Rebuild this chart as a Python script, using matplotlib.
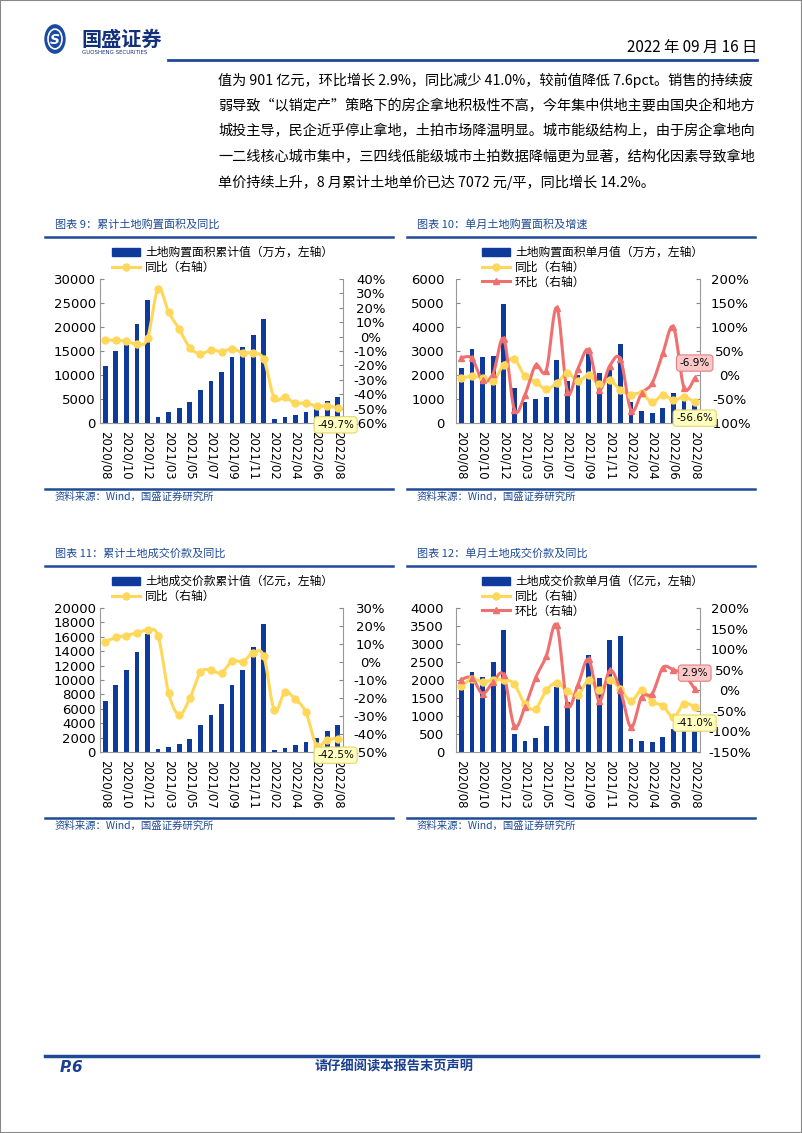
import numpy as np
import matplotlib.pyplot as plt
from matplotlib.lines import Line2D
from matplotlib.patches import Rectangle, Circle, Patch

W, H = 802, 1133

months = ['2020/08', '2020/09', '2020/10', '2020/11', '2020/12',
          '2021/02', '2021/03', '2021/04', '2021/05', '2021/06', '2021/07',
          '2021/08', '2021/09', '2021/10', '2021/11', '2021/12',
          '2022/02', '2022/03', '2022/04', '2022/05', '2022/06', '2022/07', '2022/08']

# 图表9 累计土地购置面积(万方) 及同比(%)
area_cum = [11900, 15000, 16800, 20600, 25600, 1300, 2300, 3200, 4300, 6960, 8700,
            10650, 13700, 15800, 18240, 21650, 770, 1250, 1740, 2370, 3300, 4500, 5360]
area_cum_yoy = [-2.3, -2.6, -3.0, -5.3, -1.2, 33.2, 16.9, 5.1, -7.7, -12.0, -9.3,
                -10.4, -8.4, -11.1, -11.4, -15.8, -42.7, -42.0, -46.4, -45.9, -48.5, -48.0, -49.7]

# 图表10 单月土地购置面积(万方) 同比/环比(%)
area_mon = [2285, 3075, 2770, 2810, 4960, 1450, 860, 1000, 1090, 2620, 1745,
            1980, 2950, 2100, 2240, 3310, 860, 500, 430, 620, 1250, 900, 800]
area_mon_yoy = [-6.2, -2.8, -6.0, -13.0, 21.5, 33.0, -3.0, -14.5, -30.0, -16.6, 3.5,
                -12.5, -0.7, -19.4, -11.0, -31.0, -41.0, -38.0, -57.0, -41.5, -52.6, -45.7, -56.6]
area_mon_mom = [36.0, 34.6, -11.0, 2.8, 75.5, -72.7, -41.5, 20.0, 9.0, 140.6, -34.6,
                13.2, 52.6, -30.5, 19.4, 33.2, -74.0, -38.0, -16.6, 45.7, 99.7, -27.0, -6.9]

# 图表11 累计土地成交价款(亿元) 及同比(%)
price_cum = [7050, 9330, 11370, 13920, 16330, 460, 740, 1160, 1860, 3800, 5100,
             6640, 9370, 11420, 14520, 17770, 330, 600, 930, 1350, 2000, 2880, 3800]
price_cum_yoy = [11.3, 13.7, 14.7, 16.3, 17.6, 14.5, -17.4, -29.3, -20.2, -5.8, -4.5,
                 -6.1, 0.6, 0.2, 5.0, 3.2, -26.7, -16.9, -20.8, -28.0, -46.4, -43.2, -42.5]

# 图表12 单月土地成交价款(亿元) 同比/环比(%)
price_mon = [1713, 2222, 2074, 2500, 3380, 510, 296, 380, 722, 1805, 1400,
             1490, 2694, 2065, 3100, 3230, 352, 296, 278, 426, 648, 880, 901]
price_mon_yoy = [10.5, 26.7, 21.0, 24.3, 26.0, 14.6, -34.0, -44.6, 0.0, 17.8, -1.6,
                 -10.5, 24.3, 1.6, 24.3, 3.2, -26.0, 0.0, -28.0, -38.0, -65.6, -32.4, -41.0]
price_mon_mom = [26.0, 30.8, -8.0, 20.3, 36.5, -87.5, -40.5, 30.0, 82.6, 158.0, -34.0,
                 13.8, 75.4, -26.0, 48.6, 0.0, -90.0, -16.2, -8.0, 55.0, 49.4, 39.0, 2.9]

BAR = '#0E3A9B'
YEL = '#FFD75A'
RED = '#F07070'
RULE = '#1F4A96'
CJK = ['Noto Sans CJK SC', 'DejaVu Sans']


def smooth_xy(x, y, steps=12):
    # Catmull-Rom 平滑，仅用于画线形状
    x = np.asarray(x, float)
    y = np.asarray(y, float)
    n = len(x)
    t = np.linspace(0, 1, steps, endpoint=False)
    xs, ys = [], []
    for i in range(n - 1):
        i0, i3 = max(i - 1, 0), min(i + 2, n - 1)
        for arr, out in ((x, xs), (y, ys)):
            p0, p1, p2, p3 = arr[i0], arr[i], arr[i + 1], arr[i3]
            out.append(0.5 * (2 * p1 + (-p0 + p2) * t + (2 * p0 - 5 * p1 + 4 * p2 - p3) * t ** 2
                              + (-p0 + 3 * p1 - 3 * p2 + p3) * t ** 3))
    xs.append([x[-1]])
    ys.append([y[-1]])
    return np.concatenate(xs), np.concatenate(ys)


fig = plt.figure(figsize=(W / 100, H / 100), dpi=100)


def fx(px):
    return px / W


def fy(py):
    return 1 - py / H


def add_ax(left, top, right, bottom):
    return fig.add_axes([fx(left), fy(bottom), (right - left) / W, (bottom - top) / H])


def rule(x0, x1, y, lw=1.8):
    fig.add_artist(Line2D([fx(x0), fx(x1)], [fy(y), fy(y)], color=RULE, lw=lw))


def draw_chart(box, title, src_x, bars, bar_label, left_lim, left_step, right_lim, right_step,
               yoy, mom, left_pad, right_pad, legend_x, legend_top, yoy_off, mom_off, title_y):
    left, top, right, bottom = box
    # 标题与分隔线
    fig.text(fx(src_x), fy(title_y), title, family=CJK, fontsize=8, style='italic',
             color=RULE, va='center')
    rule(src_x - 10, src_x + 338, title_y + 13)
    rule(src_x - 10, src_x + 338, title_y + 265)
    fig.text(fx(src_x), fy(title_y + 273), '资料来源：Wind，国盛证券研究所', family=CJK,
             fontsize=7.5, style='italic', color=RULE, va='center')

    ax = add_ax(left, top, right, bottom)
    x = np.arange(len(months))
    ax.bar(x, bars, width=0.45, color=BAR, zorder=2)
    ax.set_xlim(-0.5, len(months) - 0.5)
    ax.set_ylim(0, left_lim)
    ax.set_yticks(np.arange(0, left_lim + 1, left_step))
    ax.set_xticks(x[::2])
    ax.set_xticklabels(months[::2], rotation=-90, fontsize=8.5)
    ax.tick_params(axis='x', length=0, pad=6)
    ax.tick_params(axis='y', labelsize=9.5, length=3, direction='in', pad=left_pad, color='#888')
    for s in ['top', 'right']:
        ax.spines[s].set_visible(False)
    for s in ['left', 'bottom']:
        ax.spines[s].set_color('#999')
        ax.spines[s].set_linewidth(0.8)

    ax2 = ax.twinx()
    ax2.set_ylim(right_lim)
    ax2.set_yticks(np.arange(right_lim[0], right_lim[1] + 1, right_step))
    ax2.set_yticklabels([f'{v:.0f}%' for v in ax2.get_yticks()])
    ax2.tick_params(axis='y', labelsize=9.5, length=3, direction='in', pad=right_pad, color='#888')
    for lab in ax2.get_yticklabels():
        lab.set_horizontalalignment('center')
    for s in ['top', 'left', 'bottom']:
        ax2.spines[s].set_visible(False)
    ax2.spines['right'].set_color('#999')
    ax2.spines['right'].set_linewidth(0.8)

    sx, sy = smooth_xy(x, yoy)
    ax2.plot(sx, sy, color=YEL, lw=2.2, zorder=3)
    ax2.plot(x, yoy, 'o', color=YEL, ms=5, zorder=4)
    handles = [Patch(color=BAR, label=bar_label),
               Line2D([], [], color=YEL, lw=2.2, marker='o', ms=5, label='同比（右轴）')]
    if mom is not None:
        sx, sy = smooth_xy(x, mom)
        ax2.plot(sx, sy, color=RED, lw=2.2, zorder=3)
        ax2.plot(x, mom, '^', color=RED, ms=5, zorder=4)
        handles.append(Line2D([], [], color=RED, lw=2.2, marker='^', ms=5, label='环比（右轴）'))
        ax2.annotate(f'{mom[-1]:.1f}%', xy=(x[-1], mom[-1]), xytext=mom_off,
                     textcoords='offset points', ha='center', va='center', fontsize=7.5,
                     bbox=dict(boxstyle='round,pad=0.3', fc='#F9C9C9', ec='#E58080', lw=0.8),
                     zorder=6)
    ax2.annotate(f'{yoy[-1]:.1f}%', xy=(x[-1], yoy[-1]), xytext=yoy_off,
                 textcoords='offset points', ha='center', va='center', fontsize=7.5,
                 bbox=dict(boxstyle='round,pad=0.3', fc='#FFFFBF', ec='#E6D46A', lw=0.8),
                 zorder=6)
    fig.legend(handles=handles, loc='upper left', bbox_to_anchor=(fx(legend_x), fy(legend_top)),
               frameon=False, prop={'family': CJK, 'size': 8.5}, borderpad=0, borderaxespad=0,
               handlelength=2.4, handletextpad=0.4, labelspacing=0.15)


# 页面边框
fig.add_artist(Rectangle((0, 0), 1, 1, transform=fig.transFigure, fill=False, ec='#888', lw=1.5))

# 抬头
fig.add_artist(Circle((fx(55), fy(39)), 10 / W, transform=fig.transFigure, color='#1A4BA0'))
fig.add_artist(Circle((fx(55), fy(39)), 7 / W, transform=fig.transFigure, fill=False,
                      ec='white', lw=1.2))
fig.text(fx(55), fy(39.5), 'S', color='white', fontsize=10, fontweight='bold',
         ha='center', va='center', style='italic')
fig.text(fx(81), fy(39), '国盛证券', family=CJK, fontsize=14.5, fontweight='bold',
         color='#13307A', va='center')
fig.text(fx(82), fy(52), 'GUOSHENG SECURITIES', fontsize=4, color='#13307A', va='center')
fig.text(fx(757), fy(47), '2022 年 09 月 16 日', family=CJK, fontsize=11, ha='right', va='center')
rule(168, 757, 60, lw=2)

body = ['值为 901 亿元，环比增长 2.9%，同比减少 41.0%，较前值降低 7.6pct。销售的持续疲',
        '弱导致“以销定产”策略下的房企拿地积极性不高，今年集中供地主要由国央企和地方',
        '城投主导，民企近乎停止拿地，土拍市场降温明显。城市能级结构上，由于房企拿地向',
        '一二线核心城市集中，三四线低能级城市土拍数据降幅更为显著，结构化因素导致拿地',
        '单价持续上升，8 月累计土地单价已达 7072 元/平，同比增长 14.2%。']
for i, line in enumerate(body):
    fig.text(fx(218), fy(80 + i * 25.7), line, family=CJK, fontsize=10.2, va='center')

draw_chart((100, 279, 343, 423), '图表 9：累计土地购置面积及同比', 55, area_cum,
           '土地购置面积累计值（万方，左轴）', 30000, 5000, (-60, 40), 10,
           area_cum_yoy, None, 3, 20, 112, 246, (-1.5, -12), None, 224)
draw_chart((456, 279, 700, 423), '图表 10：单月土地购置面积及增速', 417, area_mon,
           '土地购置面积单月值（万方，左轴）', 6000, 1000, (-100, 200), 50,
           area_mon_yoy, area_mon_mom, 8, 21.5, 482, 246, (0, -11.5), (0, 11), 224)
draw_chart((100, 608, 343, 752), '图表 11：累计土地成交价款及同比', 55, price_cum,
           '土地成交价款累计值（亿元，左轴）', 20000, 2000, (-50, 30), 10,
           price_cum_yoy, None, 3, 20, 112, 575, (-1.5, -12), None, 553)
draw_chart((456, 608, 700, 752), '图表 12：单月土地成交价款及同比', 417, price_mon,
           '土地成交价款单月值（亿元，左轴）', 4000, 500, (-150, 200), 50,
           price_mon_yoy, price_mon_mom, 8.5, 21.5, 482, 575, (0, -11.5), (0, 11.5), 553)

# 页脚
rule(45, 758, 1056, lw=2.5)
fig.text(fx(60), fy(1067), 'P.6', fontsize=11, fontweight='bold', style='italic',
         color='#1A3F8F', va='center')
fig.text(fx(394), fy(1067), '请仔细阅读本报告末页声明', family=CJK, fontsize=9.5,
         fontweight='bold', style='italic', color='#1A3F8F', ha='center', va='center')

fig.savefig('out.png', dpi=100)
